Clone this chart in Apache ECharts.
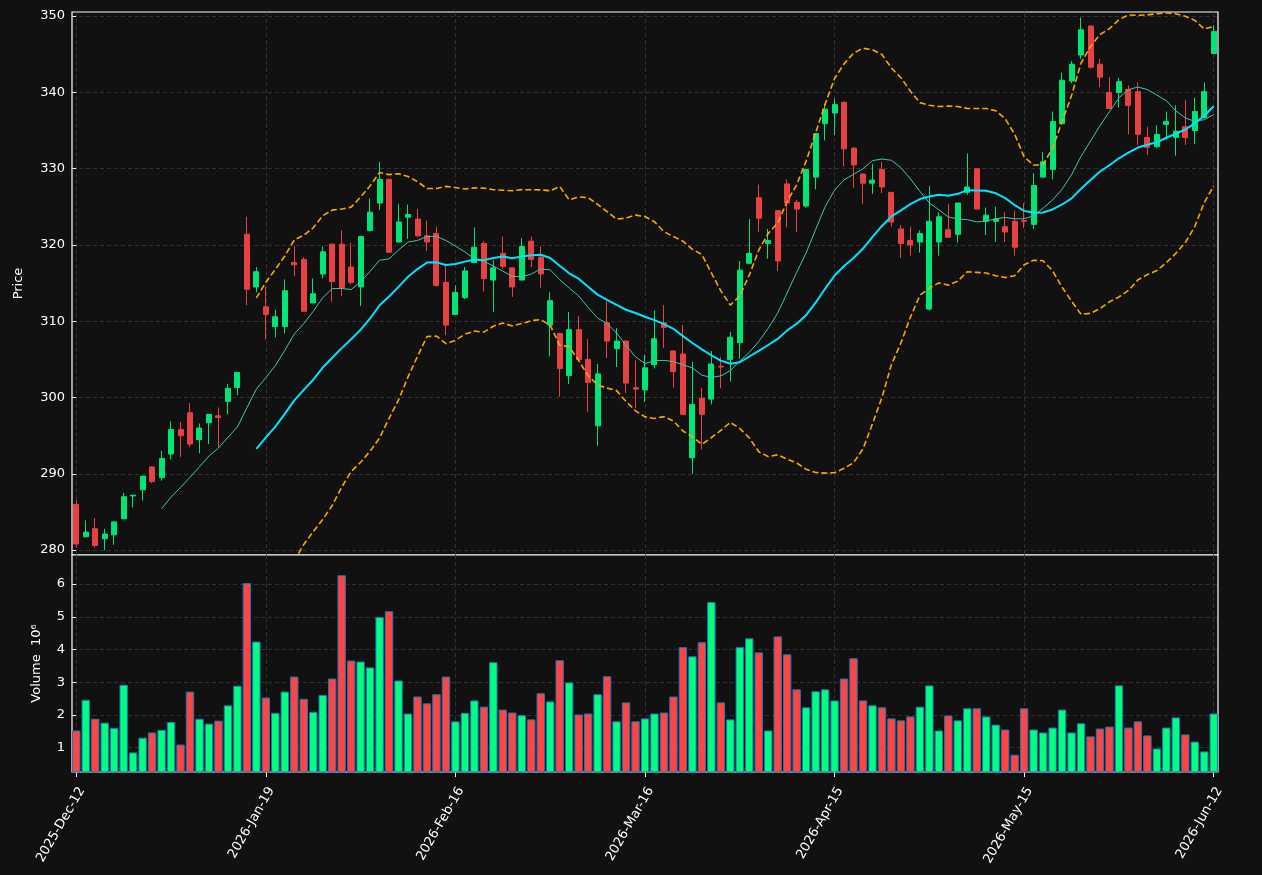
<!DOCTYPE html>
<html><head><meta charset="utf-8">
<script src="https://cdn.jsdelivr.net/npm/echarts@6/dist/echarts.min.js"></script>
<style>html,body{margin:0;padding:0;background:#111111;}#c{width:1262px;height:875px;}</style>
</head><body><div id="c"></div>
<script>
const opens = [286.0,281.75,282.8,281.5,282.0,284.1,287.1,287.9,290.9,289.5,
292.6,295.8,298.0,294.5,296.7,297.6,299.5,301.3,321.4,314.5,
311.9,309.3,309.3,317.7,318.1,312.4,316.2,320.1,320.1,317.1,
314.5,321.9,325.5,328.6,320.4,323.65,323.4,321.2,321.5,315.1,
310.9,313.1,317.7,320.2,315.4,318.9,317.0,315.4,320.5,318.4,
309.5,308.4,302.9,308.9,305.0,296.3,309.8,306.4,307.4,301.3,
301.0,304.3,309.8,306.1,305.7,292.1,299.9,299.8,304.1,305.0,
307.2,317.6,326.2,320.2,324.5,328.0,325.6,325.1,328.9,335.9,
337.3,338.7,332.7,329.3,328.1,329.9,326.9,322.1,320.6,320.4,
311.6,320.4,322.0,321.4,326.9,330.0,323.1,323.1,322.4,323.1,
323.2,322.7,328.9,329.9,335.9,341.5,344.9,348.7,343.7,340.0,
340.0,340.4,340.1,334.1,332.9,335.8,334.1,335.5,335.0,336.7,345.1];
const closes = [280.8,282.36,280.6,282.1,283.7,287.0,287.2,289.7,289.0,292.0,
295.8,295.0,293.9,296.0,297.8,297.4,301.2,303.3,314.2,316.5,
310.9,310.6,314.0,317.4,311.3,313.6,319.1,315.2,314.4,315.1,
321.1,324.3,328.6,319.05,323.0,324.0,321.2,320.4,314.7,309.5,
313.8,316.6,319.7,315.6,317.0,317.2,314.5,319.8,318.1,316.2,
312.7,303.8,308.9,305.0,302.0,303.1,307.4,307.4,301.9,301.1,
303.9,307.7,309.2,303.4,297.8,299.1,297.8,304.4,304.0,307.9,
316.7,318.9,323.5,320.6,317.9,325.5,324.7,329.9,334.6,337.8,
338.4,332.6,330.5,328.1,328.5,327.6,323.0,320.2,320.0,321.5,
323.1,323.7,321.0,325.5,327.6,324.7,323.9,323.4,321.7,319.7,
323.1,327.8,330.9,336.2,341.6,343.7,348.2,343.3,342.0,337.9,
341.4,338.3,334.5,332.8,334.5,336.2,334.9,334.1,337.5,340.1,348.0];
const lows = [280.4,281.7,280.3,280.0,280.7,284.1,285.6,286.5,288.8,289.1,
291.9,292.2,293.5,292.7,293.9,293.4,297.8,300.3,312.1,313.8,
307.6,307.9,308.4,315.9,311.3,312.4,315.6,312.6,313.3,314.8,
312.0,321.8,324.6,319.0,320.3,320.8,321.1,319.2,314.5,308.2,
310.9,312.9,317.7,313.9,311.2,316.9,313.2,315.4,317.1,314.4,
305.4,300.1,301.8,304.9,298.1,293.7,305.2,304.0,300.6,298.6,
299.4,303.8,306.5,301.3,297.8,290.0,293.2,299.1,301.2,302.1,
305.1,317.5,321.7,318.2,316.6,322.3,321.7,324.9,327.3,333.7,
334.4,330.3,327.5,325.4,326.7,326.8,322.4,318.3,318.6,319.0,
311.4,318.6,321.0,320.3,326.6,324.7,321.3,320.4,320.4,318.6,
322.2,322.1,328.8,328.6,335.9,341.2,344.4,343.1,340.7,337.9,
338.0,334.5,333.1,331.8,332.7,333.8,331.7,333.1,333.2,336.6,345.0];
const highs = [286.6,283.9,284.2,282.8,283.7,287.5,287.2,289.7,291.0,293.0,
296.9,296.8,299.3,296.6,297.8,298.7,301.8,303.3,323.7,317.1,
314.5,311.5,315.5,319.9,318.4,315.6,319.8,320.2,321.9,320.3,
321.2,326.1,330.9,328.7,325.4,325.3,324.7,323.2,322.4,317.3,
314.7,317.1,322.3,320.5,318.0,321.1,317.1,320.9,321.1,319.8,
313.8,308.5,311.2,310.7,307.7,304.4,312.6,309.1,307.5,304.9,
305.6,311.4,312.1,306.2,309.5,304.7,301.3,306.1,305.3,308.6,
317.9,323.4,327.9,322.1,324.6,328.6,325.9,330.0,334.7,338.5,
339.2,338.8,332.8,329.4,330.6,330.9,326.9,322.6,322.4,321.9,
327.7,324.3,325.4,325.5,332.0,330.0,324.9,325.0,324.3,324.5,
325.5,329.4,332.2,337.5,342.6,344.1,349.8,348.8,344.4,342.0,
341.9,340.9,341.3,335.5,335.7,337.5,338.3,339.0,339.3,341.3,348.8];
const volumes = [1.52,2.46,1.88,1.76,1.60,2.92,0.85,1.30,1.46,1.54,
1.78,1.09,2.71,1.88,1.73,1.82,2.29,2.89,6.03,4.24,
2.53,2.06,2.71,3.17,2.49,2.09,2.61,3.11,6.27,3.66,
3.63,3.45,4.99,5.17,3.05,2.04,2.56,2.35,2.63,3.17,
1.80,2.06,2.44,2.25,3.61,2.16,2.07,1.99,1.86,2.66,
2.41,3.67,2.99,2.01,2.04,2.63,3.18,1.80,2.38,1.80,
1.89,2.04,2.07,2.56,4.07,3.79,4.22,5.45,2.38,1.86,
4.07,4.34,3.91,1.52,4.40,3.85,2.78,2.23,2.72,2.78,
2.44,3.11,3.73,2.44,2.29,2.23,1.89,1.83,1.95,2.25,
2.90,1.52,1.98,1.83,2.20,2.20,1.95,1.70,1.55,0.78,
2.20,1.55,1.46,1.61,2.16,1.46,1.74,1.34,1.58,1.64,
2.90,1.61,1.80,1.37,0.97,1.61,1.92,1.40,1.18,0.88,2.04];
const tickIndex = [0,20,40,60,80,100,120];
const tickLabels = ['2025-Dec-12','2026-Jan-19','2026-Feb-16','2026-Mar-16','2026-Apr-15','2026-May-15','2026-Jun-12'];
const priceTicks = [280,290,300,310,320,330,340,350];
const volumeTicks = [1,2,3,4,5,6];

function sma(arr, n) {
  const out = [];
  for (let i = n - 1; i < arr.length; i++) {
    let s = 0; for (let j = i - n + 1; j <= i; j++) s += arr[j];
    out.push([i, s / n]);
  }
  return out;
}
function boll(arr, n, k, sign) {
  const out = [];
  for (let i = n - 1; i < arr.length; i++) {
    let s = 0; for (let j = i - n + 1; j <= i; j++) s += arr[j];
    const m = s / n; let v = 0;
    for (let j = i - n + 1; j <= i; j++) v += (arr[j] - m) * (arr[j] - m);
    out.push([i, m + sign * k * Math.sqrt(v / n)]);
  }
  return out;
}
function near(v, list) {
  const r = Math.round(v);
  return Math.abs(v - r) < 1e-6 && list.indexOf(r) >= 0 ? r : null;
}
const FONT = 'DejaVu Sans';
const gridLine = {show: true, lineStyle: {color: '#3a3a3a', width: 0.8, type: [4, 3]}};
const xBase = {type: 'value', min: -0.45, max: 120.45, splitNumber: 6, axisLine: {show: false}, splitLine: gridLine};

const chart = echarts.init(document.getElementById('c'));
chart.setOption({
  backgroundColor: '#111111',
  animation: false,
  textStyle: {fontFamily: FONT},
  grid: [
    {left: 72, top: 12, width: 1146, height: 543, show: true, borderColor: '#ffffff', borderWidth: 1.2, backgroundColor: '#111111'},
    {left: 72, top: 555, width: 1146, height: 217, show: true, borderColor: '#ffffff', borderWidth: 1.2, backgroundColor: '#111111'}
  ],
  xAxis: [
    Object.assign({}, xBase, {gridIndex: 0, axisTick: {show: false, customValues: tickIndex}, axisLabel: {show: false, customValues: tickIndex}}),
    Object.assign({}, xBase, {gridIndex: 1,
      axisTick: {show: true, length: 5, lineStyle: {color: '#ffffff'}, customValues: tickIndex},
      axisLabel: {show: true, rotate: 60, margin: 13, verticalAlign: 'top', color: '#ffffff', fontSize: 13, fontFamily: FONT, customValues: tickIndex,
        formatter: v => { const r = near(v, tickIndex); return r === null ? '' : tickLabels[tickIndex.indexOf(r)]; }}})
  ],
  yAxis: [
    {gridIndex: 0, type: 'value', min: 279.36, max: 350.54, splitNumber: 7, axisLine: {show: false},
      axisTick: {show: true, length: 4, lineStyle: {color: '#ffffff'}, customValues: priceTicks},
      axisLabel: {color: '#ffffff', fontSize: 13, margin: 7, fontFamily: FONT, customValues: priceTicks,
        formatter: v => { const r = near(v, priceTicks); return r === null ? '' : String(r); }},
      splitLine: gridLine,
      name: 'Price', nameLocation: 'middle', nameGap: 47, nameRotate: 90,
      nameTextStyle: {color: '#ffffff', fontSize: 13, fontFamily: FONT}},
    {gridIndex: 1, type: 'value', min: 0.25, max: 6.89, splitNumber: 6, axisLine: {show: false},
      axisTick: {show: true, length: 4, lineStyle: {color: '#ffffff'}, customValues: volumeTicks},
      axisLabel: {color: '#ffffff', fontSize: 13, margin: 7, fontFamily: FONT, customValues: volumeTicks,
        formatter: v => { const r = near(v, volumeTicks); return r === null ? '' : String(r); }},
      splitLine: gridLine,
      name: 'Volume  10\u2076', nameLocation: 'middle', nameGap: 29, nameRotate: 90,
      nameTextStyle: {color: '#ffffff', fontSize: 13, fontFamily: FONT}}
  ],
  series: [
    {type: 'candlestick', xAxisIndex: 0, yAxisIndex: 0, barWidth: 5.5,
      encode: {x: 0, y: [1, 2, 3, 4]},
      data: opens.map((o, i) => [i, o, closes[i], lows[i], highs[i]]),
      itemStyle: {color: '#00e676', color0: '#e84142', borderColor: '#00e676', borderColor0: '#e84142', borderWidth: 1}, z: 2},
    {type: 'line', xAxisIndex: 0, yAxisIndex: 0, data: sma(closes, 10), showSymbol: false, symbol: 'none',
      lineStyle: {color: '#40c4b4', width: 1}, z: 3},
    {type: 'line', xAxisIndex: 0, yAxisIndex: 0, data: sma(closes, 20), showSymbol: false, symbol: 'none',
      lineStyle: {color: '#00e5ff', width: 2}, z: 3},
    {type: 'line', xAxisIndex: 0, yAxisIndex: 0, data: boll(closes, 20, 2, 1), showSymbol: false, symbol: 'none',
      lineStyle: {color: '#ffa500', width: 1.6, type: [6, 3]}, z: 3},
    {type: 'line', xAxisIndex: 0, yAxisIndex: 0, data: boll(closes, 20, 2, -1), showSymbol: false, symbol: 'none',
      lineStyle: {color: '#ffa500', width: 1.6, type: [6, 3]}, z: 3},
    {type: 'bar', xAxisIndex: 1, yAxisIndex: 1, barWidth: 8.4,
      data: volumes.map((v, i) => ({value: [i, v], itemStyle: {color: closes[i] >= opens[i] ? '#00ff80' : '#ff4444'}})),
      itemStyle: {borderColor: '#1f77b4', borderWidth: 1}}
  ]
});
</script></body></html>
